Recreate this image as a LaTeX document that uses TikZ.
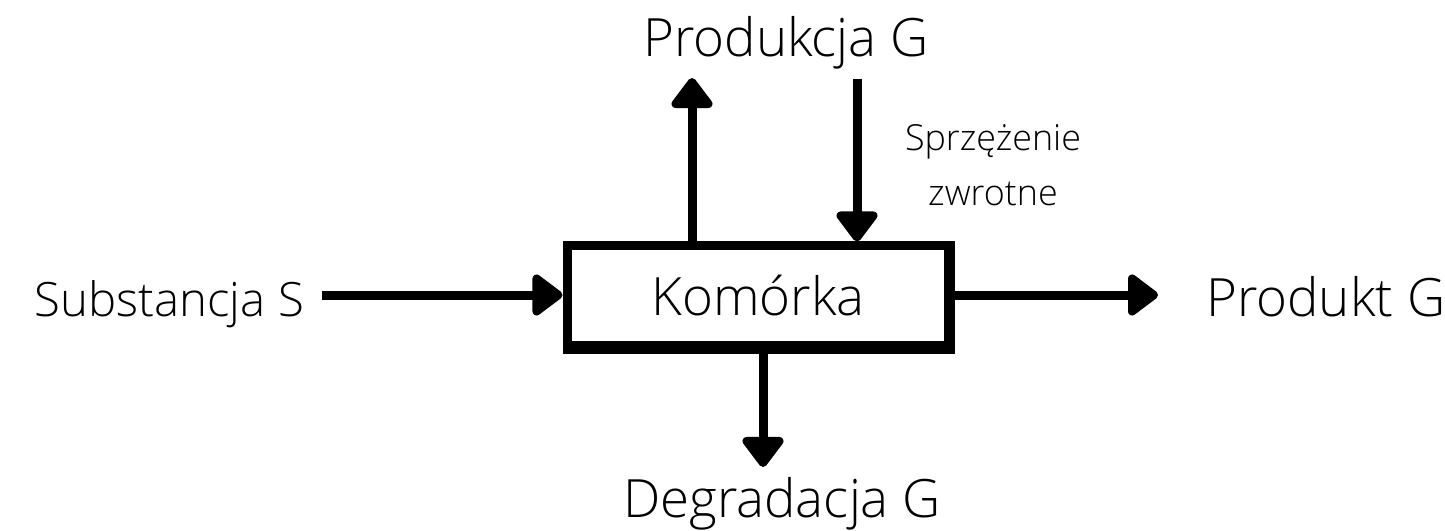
\documentclass[tikz,border=0pt]{standalone}
\usepackage{fontspec}
\setmainfont{Open Sans}[UprightFont={* Light}]
\usetikzlibrary{arrows.meta}
\begin{document}
\begin{tikzpicture}[x=1bp,y=-1bp,
  big/.style={inner sep=0pt,font=\fontsize{53}{60}\selectfont},
  small/.style={inner sep=0pt,font=\fontsize{36}{56}\selectfont},
  arr/.style={line width=9bp,-{Triangle[round,length=33bp,width=47bp]}},
  cell/.style={draw,line width=9bp,minimum width=383bp,minimum height=101bp,inner sep=0pt}]
\useasboundingbox (0,0) rectangle (1445,531);
\node[cell] (box) at (758.5,296.5) {};
\node[big,anchor=base] (kom) at (758,315) {Komórka};
\draw[line width=13bp] ([yshift=4bp]box.south west) -- ([yshift=4bp]box.south east);
\draw[line width=11bp] ([xshift=-5bp]box.north east) -- ([xshift=-5bp]box.south east);
\node[big,anchor=base east,font=\fontsize{47.5}{60}\selectfont] (sub) at (304,316) {Substancja S};
\node[big,anchor=base west] (prod) at (1206,316) {Produkt G};
\node[big,anchor=base] (prc) at (786,57) {Produkcja G};
\node[big,anchor=base] (deg) at (782,517) {Degradacja G};
\node[small,anchor=base,align=center] (fb) at (993,206) {Sprzężenie\\zwrotne};
\coordinate (sL) at (322,295);
\coordinate (pR) at (1158,295);
\coordinate (upT) at (692,78);
\coordinate (fbT) at (857,79);
\coordinate (dnT) at (763,467);
\draw[arr] (sL) -- (box.west |- sL);
\draw[arr] (box.east |- pR) -- (pR);
\draw[arr] (box.north -| upT) -- (upT);
\draw[arr] (fbT) -- (box.north -| fbT);
\draw[arr] (box.south -| dnT) -- (dnT);
\end{tikzpicture}
\end{document}
